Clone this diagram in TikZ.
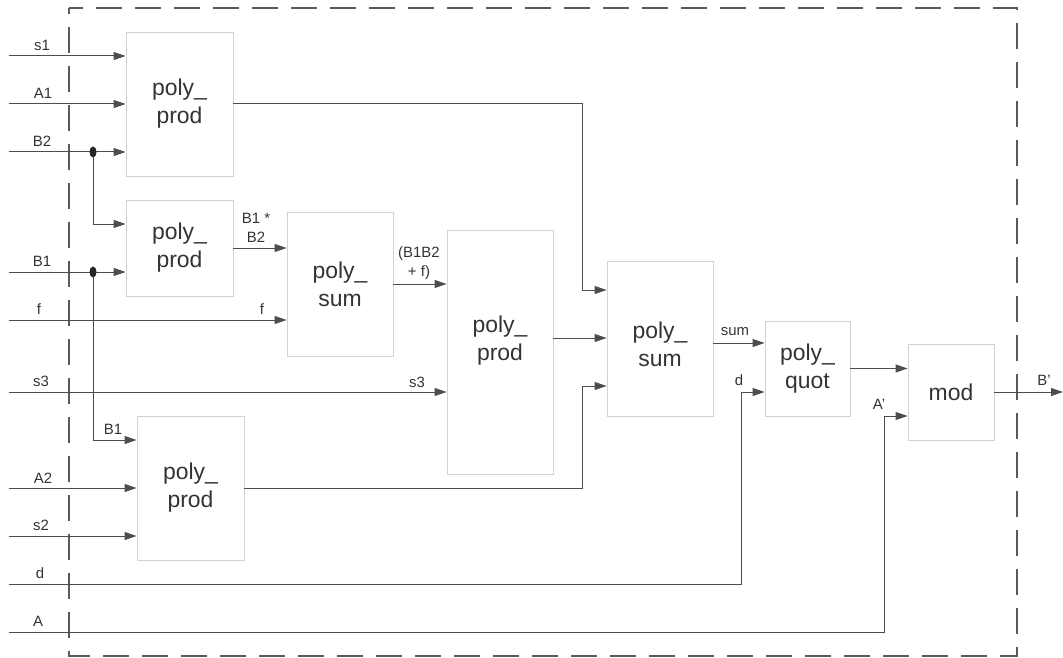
\documentclass[tikz,border=0pt]{standalone}
\usepackage{fontspec}
\setmainfont{Liberation Sans}
\usetikzlibrary{arrows.meta}
\definecolor{wire}{HTML}{4D4D4D}
\definecolor{boxline}{HTML}{D2D2D2}
\definecolor{frame}{HTML}{5A5A5A}
\definecolor{txt}{HTML}{333333}
\tikzset{
  blk/.style={draw=boxline, line width=0.9bp, fill=white, inner sep=0pt, text=txt,
    align=center, font=\fontsize{23}{28}\selectfont},
  blktxt/.style={inner sep=0pt, text=txt, align=center, font=\fontsize{23}{28}\selectfont},
  wirearr/.style={draw=wire, line width=1bp, -{Triangle[length=12bp,width=8bp]}},
  lbl/.style={text=txt, inner sep=0pt, align=center, font=\fontsize{15}{19}\selectfont},
}
\begin{document}
\begin{tikzpicture}[x=1bp,y=-1bp]
\useasboundingbox (0,0) rectangle (1063,658);
% frame
\draw[frame, line width=2bp, dash pattern=on 26bp off 13bp, dash phase=20bp] (69,8) rectangle (1017,656);

% blocks
\node[blk, minimum width=107bp, minimum height=144bp] (pp1) at (179.5,104) {poly\_\\prod};
\node[blk, minimum width=107bp, minimum height=96bp] (pp2) at (179.5,248) {poly\_\\prod};
\node[blk, minimum width=106bp, minimum height=144bp] (ps1) at (340,284) {poly\_\\sum};
\node[blk, minimum width=106bp, minimum height=244bp] (pp3) at (500,352) {};
\node[blktxt] (pp3t) at (500,341) {poly\_\\prod};
\node[blk, minimum width=107bp, minimum height=144bp] (pp4) at (190.5,488) {poly\_\\prod};
\node[blk, minimum width=106bp, minimum height=155bp] (ps2) at (660,338.5) {};
\node[blktxt] (ps2t) at (660,344) {poly\_\\sum};
\node[blk, minimum width=85bp, minimum height=95bp] (pq) at (807.5,368.5) {poly\_\\quot};
\node[blk, minimum width=86bp, minimum height=96bp] (md) at (951,392) {mod};

% input start points
\coordinate (is1) at (9,56);
\coordinate (iA1) at (9,104);
\coordinate (iB2) at (9,152);
\coordinate (iB1) at (9,272);
\coordinate (if) at (9,320);
\coordinate (is3) at (9,392);
\coordinate (iA2) at (9,488);
\coordinate (is2) at (9,536);
\coordinate (id) at (9,584);
\coordinate (iA) at (9,632);
\coordinate (jB2) at (93,152);
\coordinate (jB1) at (93,272);
\coordinate (bus1) at (582,104);
\coordinate (bus2) at (582,386);
\coordinate (dcorner) at (741,392);
\coordinate (Acorner) at (884,416);
\coordinate (outB) at (1063,392);

% inputs
\draw[wirearr] (is1) -- (is1 -| pp1.west);
\draw[wirearr] (iA1) -- (iA1 -| pp1.west);
\draw[wirearr] (iB2) -- (iB2 -| pp1.west);
\draw[wirearr] (jB2) |- (pp2.west |- 0,224);
\draw[wirearr] (iB1) -- (iB1 -| pp2.west);
\draw[wirearr] (jB1) |- (pp4.west |- 0,440);
\draw[wirearr] (if) -- (if -| ps1.west);
\draw[wirearr] (is3) -- (is3 -| pp3.west);
\draw[wirearr] (iA2) -- (iA2 -| pp4.west);
\draw[wirearr] (is2) -- (is2 -| pp4.west);

% internal
\draw[wirearr] (pp2.east) -- (pp2.east -| ps1.west);
\draw[wirearr] (ps1.east) -- (ps1.east -| pp3.west);
\draw[wirearr] (pp1.east) -| (bus1) |- (ps2.west |- 0,290);
\draw[wirearr] (pp3.east |- 0,338) -- (ps2.west |- 0,338);
\draw[wirearr] (pp4.east) -| (bus2) -- (ps2.west |- bus2);
\draw[wirearr] (ps2.east |- 0,343) -- (pq.west |- 0,343);
\draw[wirearr] (id) -| (dcorner) -- (pq.west |- dcorner);
\draw[wirearr] (pq.east) -- (pq.east -| md.west);
\draw[wirearr] (iA) -| (Acorner) -- (md.west |- Acorner);
\draw[wirearr] (md.east) -- (outB);

\fill[black!85] (jB2) ellipse (3.5bp and 5.5bp);
\fill[black!85] (jB1) ellipse (3.5bp and 5.5bp);

% labels
\node[lbl] (ls1) at (42,45) {s1};
\node[lbl] (lA1) at (43,93) {A1};
\node[lbl] (lB2) at (42,141) {B2};
\node[lbl] (lB1) at (42,261) {B1};
\node[lbl] (lf) at (39,309) {f};
\node[lbl] (ls3l) at (41,381) {s3};
\node[lbl] (lA2) at (43,478) {A2};
\node[lbl] (ls2) at (41,525) {s2};
\node[lbl] (ld) at (40,573) {d};
\node[lbl] (lA) at (38,621) {A};
\node[lbl] (lB1b) at (113,429) {B1};
\node[lbl] (lprod) at (256,228) {B1 *\\B2};
\node[lbl] (lf2) at (262,309) {f};
\node[lbl] (lsum1) at (419,263) {(B1B2\\+ f)};
\node[lbl] (ls3) at (417,382) {s3};
\node[lbl] (lsum) at (735,332) {sum};
\node[lbl] (ld2) at (739,380) {d};
\node[lbl] (lAp) at (879,404) {A'};
\node[lbl] (lBp) at (1044,380) {B'};
\end{tikzpicture}
\end{document}
